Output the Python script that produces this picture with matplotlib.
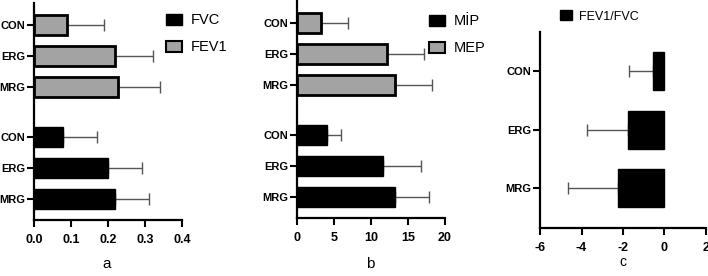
import matplotlib.pyplot as plt
from matplotlib.patches import Patch

plt.rcParams['font.family'] = ['Liberation Sans', 'DejaVu Sans']
plt.rcParams['axes.unicode_minus'] = False

groups = ["CON", "ERG", "MRG"]

# panel a
fev1_mean = [0.088, 0.218, 0.227]
fev1_sd = [0.102, 0.103, 0.113]
fvc_mean = [0.079, 0.200, 0.219]
fvc_sd = [0.092, 0.092, 0.091]

# panel b
mep_mean = [3.28, 12.18, 13.26]
mep_sd = [3.69, 5.02, 4.94]
mip_mean = [4.13, 11.7, 13.2]
mip_sd = [1.87, 5.0, 4.7]

# panel c
ratio_mean = [-0.54, -1.78, -2.22]
ratio_sd = [1.15, 1.94, 2.46]

GRAY = "#a3a3a3"
ERR = "#555555"


def style_axis(ax):
    for s in ["top", "right"]:
        ax.spines[s].set_visible(False)
    for s in ["left", "bottom"]:
        ax.spines[s].set_linewidth(1.6)
    ax.tick_params(axis="both", width=1.5, length=5)
    ax.tick_params(axis="y", pad=1.2, labelsize=8)
    ax.tick_params(axis="x", pad=5, labelsize=9)
    for lab in ax.get_xticklabels() + ax.get_yticklabels():
        lab.set_fontweight("bold")


def hbars(ax, pos, mean, sd, color, edge_lw, side=1):
    ax.barh(pos, mean, height=0.65, color=color, edgecolor="black", linewidth=edge_lw, zorder=2)
    if side > 0:
        xerr = [[0] * len(sd), sd]
    else:
        xerr = [sd, [0] * len(sd)]
    ax.errorbar(mean, pos, xerr=xerr, fmt="none", ecolor=ERR, elinewidth=1, capsize=4, capthick=1, zorder=1)


fig = plt.figure(figsize=(7.08, 2.76), dpi=100)

top_pos = [0, 1, 2]
bot_pos = [3.61, 4.61, 5.61]
ypos = top_pos + bot_pos
ylabels = groups + groups

# a
ax1 = fig.add_axes([0.048, 0.203, 0.209, 0.786])
hbars(ax1, top_pos, fev1_mean, fev1_sd, GRAY, 2.0)
hbars(ax1, bot_pos, fvc_mean, fvc_sd, "black", 1.0)
ax1.set_xlim(0, 0.4)
ax1.set_xticks([0.0, 0.1, 0.2, 0.3, 0.4])
ax1.set_xticklabels(["0.0", "0.1", "0.2", "0.3", "0.4"])
ax1.set_ylim(6.29, -0.71)
ax1.set_yticks(ypos)
ax1.set_yticklabels(ylabels)
style_axis(ax1)
fig.text(0.151, 0.03, "a", fontsize=11, ha="center")
fig.legend(handles=[Patch(facecolor="black", edgecolor="black"),
                    Patch(facecolor=GRAY, edgecolor="black", linewidth=1.5)],
           labels=["FVC", "FEV1"], loc="upper left", bbox_to_anchor=(0.224, 0.978),
           frameon=False, fontsize=10.5, handlelength=1.1, handleheight=0.8,
           handletextpad=0.6, labelspacing=0.9, borderpad=0)

# b
ax2 = fig.add_axes([0.419, 0.21, 0.2095, 0.79])
hbars(ax2, top_pos, mep_mean, mep_sd, GRAY, 2.0)
hbars(ax2, bot_pos, mip_mean, mip_sd, "black", 1.0)
ax2.set_xlim(0, 20)
ax2.set_xticks([0, 5, 10, 15, 20])
ax2.set_ylim(6.29, -0.74)
ax2.set_yticks(ypos)
ax2.set_yticklabels(ylabels)
style_axis(ax2)
fig.text(0.523, 0.03, "b", fontsize=11, ha="center")
fig.legend(handles=[Patch(facecolor="black", edgecolor="black"),
                    Patch(facecolor=GRAY, edgecolor="black", linewidth=1.5)],
           labels=["MİP", "MEP"], loc="upper left", bbox_to_anchor=(0.595, 0.975),
           frameon=False, fontsize=10.5, handlelength=1.1, handleheight=0.8,
           handletextpad=0.6, labelspacing=0.9, borderpad=0)

# c
ax3 = fig.add_axes([0.763, 0.174, 0.234, 0.71])
hbars(ax3, [0, 1, 2], ratio_mean, ratio_sd, "black", 1.0, side=-1)
ax3.set_xlim(-6, 2)
ax3.set_xticks([-6, -4, -2, 0, 2])
ax3.set_ylim(2.68, -0.67)
ax3.set_yticks([0, 1, 2])
ax3.set_yticklabels(groups)
style_axis(ax3)
fig.text(0.88, 0.035, "c", fontsize=10, ha="center")
fig.legend(handles=[Patch(facecolor="black", edgecolor="black")],
           labels=["FEV1/FVC"], loc="upper left", bbox_to_anchor=(0.782, 0.985),
           frameon=False, fontsize=9, handlelength=1.0, handleheight=0.8,
           handletextpad=0.5, borderpad=0)

fig.savefig("out.png", dpi=100)
